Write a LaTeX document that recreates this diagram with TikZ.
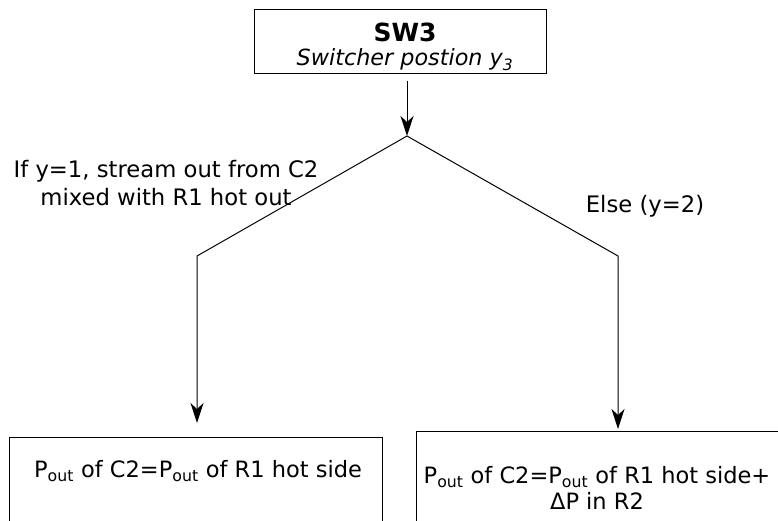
\documentclass[tikz,border=0pt]{standalone}
\usepackage{fontspec}
\setmainfont{DejaVu Sans}
\usetikzlibrary{arrows.meta}
\begin{document}
\begin{tikzpicture}[x=1pt,y=-1pt, line width=1pt,
  arr/.style={-{Stealth[length=20pt,width=13pt,inset=6pt]}},
  box/.style={draw, line width=1pt, inner sep=0pt},
  lbl/.style={align=center, inner sep=0pt, font=\fontsize{22.7}{27.5}\selectfont}]
\path[use as bounding box, clip] (0,0) rectangle (778,520);
% top box
\node[box, minimum width=292pt, minimum height=64pt] (sw) at (400,41) {};
\node[lbl, font=\fontsize{22.3}{24}\selectfont] (swt) at (405,47) {{\fontsize{25}{24}\selectfont\textbf{SW3}}\\ \textit{Switcher postion y\textsubscript{3}}};
% bottom boxes
\node[box, minimum width=373pt, minimum height=110pt, anchor=north west] (lb) at (9,437) {};
\node[box, minimum width=390pt, minimum height=115pt, anchor=north west] (rb) at (416,431) {};
\node[lbl, font=\fontsize{22.5}{26}\selectfont] (lbt) at (198,471) {P\textsubscript{out} of C2=P\textsubscript{out} of R1 hot side};
\node[lbl, font=\fontsize{22.5}{26}\selectfont] (rbt) at (597,488) {P\textsubscript{out} of C2=P\textsubscript{out} of R1 hot side+\\ΔP in R2};
% branch points
\coordinate (ap) at (407,136);
\coordinate (lk) at (197,256);
\coordinate (rk) at (618,256);
\draw[arr, shorten <=7pt] (sw.south -| ap) -- (ap);
\draw[arr, shorten >=14pt] (ap) -- (lk) -- (lk |- lb.north);
\draw[arr, shorten >=2pt] (ap) -- (rk) -- (rk |- rb.north);
% labels
\node[lbl] (ift) at (166,183) {If y=1, stream out from C2\\mixed with R1 hot out};
\node[lbl] (elt) at (645,206) {Else (y=2)};
\end{tikzpicture}
\end{document}
